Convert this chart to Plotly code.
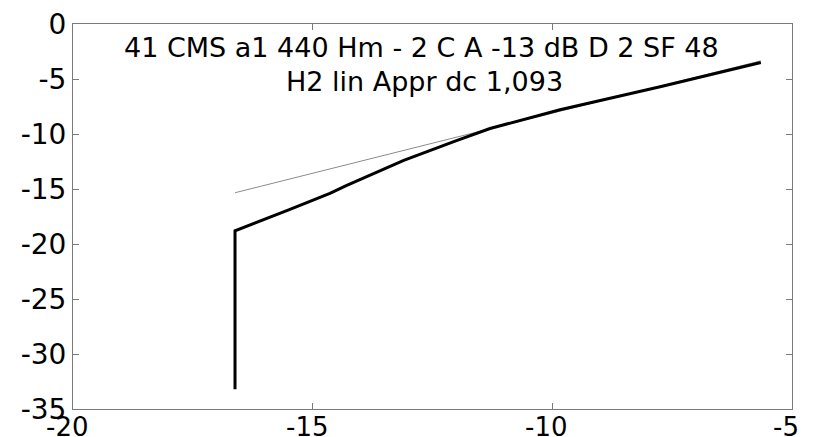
import plotly.graph_objects as go

# measured curve (black)
curve_x = [-16.62, -16.62, -15.5, -14.64, -14.3, -13.1, -12.0, -11.3, -9.84, -7.75, -5.65]
curve_y = [-33.2, -18.8, -16.9, -15.4, -14.7, -12.4, -10.6, -9.5, -7.8, -5.7, -3.5]

# linear approximation (grey)
lin_x = [-16.62, -5.65]
lin_y = [-15.34, -3.35]

x_ticks = [-20, -15, -10, -5]
y_ticks = [0, -5, -10, -15, -20, -25, -30, -35]

title_line1 = "41 CMS a1 440 Hm - 2 C A -13 dB D 2 SF 48"
title_line2 = "H2 lin Appr dc 1,093"

FONT = "DejaVu Sans"

fig = go.Figure()
fig.add_trace(go.Scatter(x=lin_x, y=lin_y, mode="lines",
                         line=dict(color="#8c8c8c", width=1), showlegend=False))
fig.add_trace(go.Scatter(x=curve_x, y=curve_y, mode="lines",
                         line=dict(color="black", width=3), showlegend=False))

axis_common = dict(showgrid=False, zeroline=False, showline=True, linecolor="#7a7a7a",
                   linewidth=1, mirror="ticks", ticks="inside", ticklen=6, automargin=False,
                   tickcolor="#7a7a7a", tickfont=dict(family=FONT, size=28, color="black"))

# x tick labels drawn as annotations on the x axis scale (for precise vertical placement)
fig.update_xaxes(range=[-20, -5], tickvals=x_ticks, showticklabels=False, **axis_common)
fig.update_yaxes(range=[-35, 0], tickvals=y_ticks, ticktext=[str(v) for v in y_ticks],
                 ticklabelstandoff=0, **axis_common)

for v in x_ticks:
    fig.add_annotation(text=str(v), xref="x", yref="paper", x=v, y=-0.002,
                       xanchor="center", yanchor="top", xshift=-6, showarrow=False,
                       font=dict(family=FONT, size=26, color="black"))

fig.add_annotation(text=title_line1, xref="paper", yref="paper", x=0.485, y=0.939,
                   xanchor="center", yanchor="middle", showarrow=False,
                   font=dict(family=FONT, size=27, color="black"))
fig.add_annotation(text=title_line2, xref="paper", yref="paper", x=0.489, y=0.851,
                   xanchor="center", yanchor="middle", showarrow=False,
                   font=dict(family=FONT, size=27, color="black"))

fig.update_layout(width=819, height=437, margin=dict(l=73, r=27, t=24, b=28),
                  paper_bgcolor="white", plot_bgcolor="white")

fig.write_html("out.html")
